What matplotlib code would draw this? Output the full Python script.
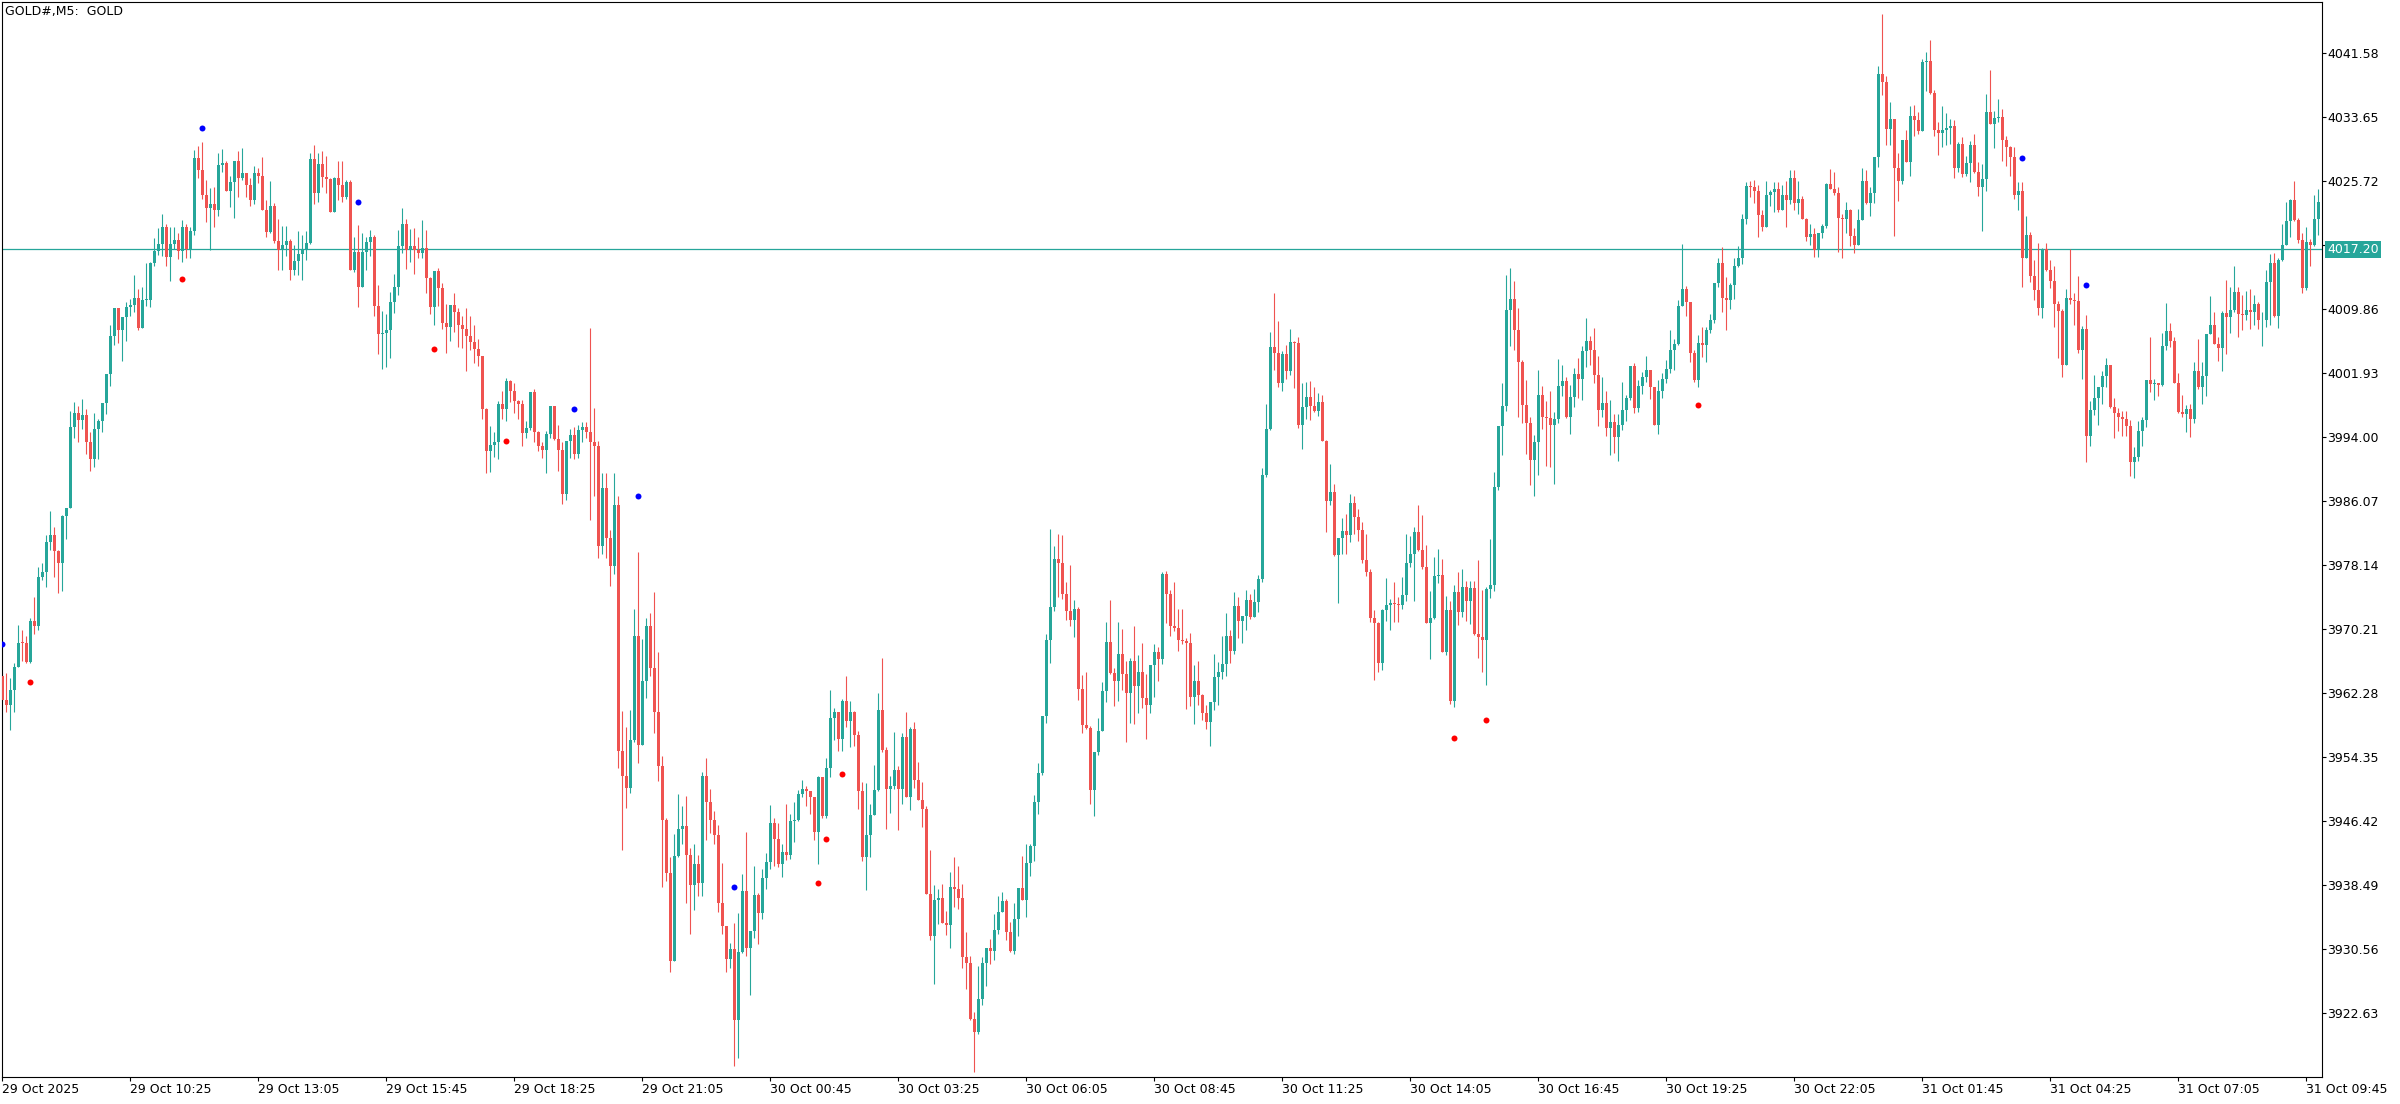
import numpy as np
import matplotlib
matplotlib.use("Agg")
import matplotlib.pyplot as plt
import matplotlib.transforms as mtransforms

# GOLD M5 candles, 29 Oct 07:45 -> 31 Oct 10:00
first_open = 3964.4

closes = [
    3961.4, 3960.8, 3962.6, 3965.5, 3968.5, 3968.4, 3966.1, 3971.2, 3970.6, 3976.6,
    3977.2, 3980.9, 3981.8, 3979.9, 3978.3, 3984.2, 3985.2, 3995.2, 3996.9, 3996.1,
    3996.7, 3993.4, 3991.2, 3995.0, 3996.0, 3998.2, 4001.8, 4006.5, 4009.9, 4007.2,
    4008.8, 4010.1, 4010.3, 4011.2, 4007.5, 4010.9, 4010.9, 4015.5, 4017.0, 4017.9,
    4020.0, 4016.3, 4017.9, 4018.4, 4017.0, 4020.0, 4017.2, 4019.5, 4028.5, 4027.0,
    4023.9, 4022.3, 4022.8, 4022.1, 4027.7, 4027.9, 4024.4, 4025.6, 4028.2, 4026.1,
    4026.7, 4025.2, 4023.3, 4026.7, 4026.3, 4022.1, 4019.4, 4022.6, 4018.3, 4017.1,
    4017.8, 4018.3, 4014.7, 4015.8, 4016.6, 4017.2, 4018.0, 4028.4, 4024.2, 4027.8,
    4026.2, 4025.9, 4021.8, 4026.1, 4025.2, 4023.7, 4025.6, 4014.7, 4016.9, 4012.5,
    4016.9, 4018.1, 4018.7, 4010.2, 4006.7, 4006.9, 4007.2, 4010.7, 4012.5, 4017.6,
    4020.4, 4017.1, 4017.6, 4017.1, 4016.7, 4017.4, 4013.7, 4010.1, 4014.5, 4012.4,
    4008.1, 4007.6, 4010.3, 4009.5, 4007.9, 4007.3, 4006.5, 4005.7, 4004.9, 4004.0,
    3997.4, 3992.2, 3993.0, 3993.4, 3998.1, 3997.4, 4000.9, 3999.7, 3998.4, 3998.1,
    3994.5, 3995.1, 3999.5, 3994.6, 3992.8, 3992.3, 3994.3, 3997.8, 3993.7, 3992.4,
    3986.9, 3993.5, 3994.2, 3991.9, 3994.8, 3995.2, 3994.6, 3993.3, 3992.8, 3980.5,
    3987.7, 3981.5, 3978.0, 3985.5, 3955.0, 3952.0, 3950.5, 3956.4, 3969.3, 3955.8,
    3963.7, 3970.6, 3965.3, 3959.9, 3953.2, 3946.5, 3939.9, 3929.0, 3942.0, 3945.4,
    3945.8, 3942.2, 3938.4, 3941.0, 3938.7, 3952.0, 3948.7, 3946.5, 3944.7, 3936.2,
    3933.4, 3929.3, 3930.5, 3921.7, 3930.2, 3937.7, 3930.7, 3932.7, 3937.2, 3935.0,
    3939.3, 3941.3, 3946.2, 3944.2, 3941.1, 3942.5, 3942.2, 3946.4, 3946.5, 3949.7,
    3950.4, 3950.1, 3949.4, 3945.0, 3951.9, 3947.0, 3952.9, 3959.1, 3959.9, 3956.6,
    3961.2, 3958.8, 3959.9, 3957.1, 3950.1, 3941.9, 3944.7, 3947.1, 3950.2, 3960.2,
    3955.2, 3950.4, 3950.7, 3952.7, 3950.4, 3956.8, 3949.4, 3957.8, 3951.5, 3949.0,
    3947.9, 3937.3, 3932.2, 3936.6, 3936.8, 3933.8, 3933.5, 3938.2, 3938.0, 3936.9,
    3929.5, 3928.8, 3921.9, 3920.3, 3924.3, 3928.8, 3930.6, 3930.3, 3932.9, 3935.1,
    3936.5, 3932.6, 3930.3, 3934.3, 3938.1, 3936.6, 3941.2, 3943.3, 3948.8, 3952.3,
    3959.4, 3968.8, 3972.9, 3978.8, 3978.4, 3974.5, 3972.4, 3971.3, 3972.6, 3962.8,
    3958.3, 3957.9, 3950.2, 3954.9, 3957.6, 3962.5, 3968.6, 3964.7, 3963.7, 3967.1,
    3964.6, 3962.3, 3966.2, 3963.1, 3964.9, 3961.6, 3960.8, 3965.7, 3967.3, 3966.4,
    3977.0, 3974.5, 3970.5, 3970.3, 3968.8, 3968.7, 3968.5, 3961.7, 3963.7, 3962.0,
    3959.8, 3958.7, 3961.1, 3964.2, 3964.9, 3965.9, 3969.3, 3967.4, 3973.0, 3971.2,
    3971.8, 3973.8, 3971.7, 3973.5, 3976.4, 3989.3, 3995.0, 4005.1, 4004.4, 4000.7,
    4004.3, 4002.1, 4005.7, 4005.6, 3995.5, 3997.7, 3998.9, 3997.8, 3997.2, 3998.3,
    3993.5, 3986.0, 3987.1, 3979.4, 3981.5, 3982.3, 3981.8, 3985.8, 3984.1, 3982.5,
    3978.7, 3977.2, 3971.6, 3970.9, 3966.0, 3972.5, 3973.2, 3973.4, 3973.3, 3973.2,
    3974.4, 3978.3, 3979.5, 3982.2, 3980.0, 3977.8, 3970.9, 3971.6, 3976.7, 3976.9,
    3967.3, 3972.5, 3961.2, 3974.7, 3972.3, 3975.4, 3973.7, 3975.2, 3969.6, 3969.2,
    3968.8, 3975.1, 3975.6, 3987.8, 3995.3, 3997.8, 4009.7, 4011.1, 4007.2, 4003.2,
    3997.9, 3995.7, 3991.1, 3993.4, 3999.2, 3996.4, 3996.3, 3995.5, 3996.2, 4000.3,
    4000.9, 3996.4, 3998.9, 4001.8, 4001.2, 4004.6, 4005.9, 4004.7, 4001.7, 3997.3,
    3998.2, 3995.1, 3995.8, 3994.0, 3995.5, 3997.3, 3998.8, 4002.8, 3997.5, 4000.3,
    4001.4, 4002.3, 4000.1, 3995.4, 3999.7, 4001.2, 4002.4, 4004.7, 4005.5, 4010.2,
    4012.3, 4010.7, 4004.4, 4001.0, 4005.6, 4005.4, 4007.2, 4008.5, 4013.0, 4015.5,
    4011.2, 4011.0, 4012.8, 4015.2, 4016.1, 4021.0, 4025.1, 4024.9, 4024.5, 4021.5,
    4020.0, 4024.0, 4024.3, 4024.7, 4022.1, 4024.0, 4023.3, 4026.1, 4023.0, 4023.5,
    4021.0, 4018.7, 4019.1, 4017.1, 4019.3, 4020.1, 4025.3, 4024.7, 4024.2, 4021.1,
    4021.0, 4022.1, 4018.9, 4017.8, 4020.9, 4025.7, 4022.9, 4024.2, 4028.7, 4038.9,
    4037.9, 4032.1, 4033.4, 4027.3, 4025.7, 4030.8, 4028.0, 4033.7, 4033.2, 4031.9,
    4040.4, 4040.5, 4036.6, 4032.0, 4031.6, 4032.0, 4032.3, 4032.5, 4027.3, 4030.3,
    4026.5, 4027.9, 4030.1, 4026.8, 4024.9, 4025.9, 4034.2, 4032.7, 4033.5, 4033.6,
    4030.8, 4029.9, 4028.6, 4024.0, 4024.4, 4016.2, 4019.0, 4013.9, 4012.2, 4009.9,
    4017.3, 4014.6, 4013.3, 4010.4, 4009.6, 4002.9, 4011.2, 4010.9, 4010.8, 4004.7,
    4007.3, 3994.1, 3997.3, 3998.8, 4000.2, 4001.5, 4002.9, 3997.7, 3997.0, 3996.4,
    3996.2, 3995.3, 3990.9, 3991.5, 3994.7, 3996.1, 4001.0, 4000.5, 4000.6, 4000.4,
    4005.2, 4007.1, 4005.8, 4000.6, 3997.1, 3996.8, 3997.4, 3996.2, 4002.2, 4000.1,
    4001.5, 4006.7, 4007.8, 4005.5, 4005.0, 4009.3, 4008.8, 4009.7, 4011.9, 4009.2,
    4009.1, 4009.7, 4009.4, 4010.4, 4008.4, 4008.5, 4013.2, 4015.5, 4008.9, 4015.9,
    4017.8, 4020.7, 4023.3, 4020.9, 4018.4, 4012.4, 4018.1, 4017.7, 4021.0, 4023.1,
]

highs = [
    3964.9, 3964.7, 3964.1, 3966.0, 3970.7, 3970.0, 3969.3, 3971.5, 3974.1, 3977.9,
    3978.3, 3981.8, 3984.8, 3982.8, 3980.0, 3984.3, 3985.2, 3997.2, 3998.3, 3997.8,
    3998.7, 3997.4, 3994.6, 3997.0, 3996.2, 3998.2, 4001.8, 4007.8, 4009.9, 4009.9,
    4008.8, 4010.7, 4011.1, 4014.0, 4012.3, 4012.6, 4015.5, 4015.7, 4018.6, 4019.8,
    4021.6, 4020.3, 4020.0, 4020.0, 4019.3, 4020.8, 4020.4, 4020.0, 4029.5, 4030.0,
    4030.5, 4025.8, 4024.8, 4025.0, 4029.2, 4029.7, 4028.1, 4026.3, 4028.2, 4029.4,
    4029.8, 4026.6, 4026.1, 4027.6, 4027.3, 4028.7, 4023.3, 4025.7, 4023.0, 4021.0,
    4020.1, 4020.1, 4018.5, 4017.7, 4019.5, 4019.0, 4019.5, 4029.2, 4030.1, 4029.1,
    4029.4, 4028.8, 4026.1, 4026.2, 4028.2, 4028.2, 4025.8, 4025.8, 4018.8, 4020.2,
    4019.3, 4018.8, 4019.6, 4019.0, 4012.8, 4009.6, 4009.2, 4011.9, 4014.1, 4019.6,
    4022.3, 4021.0, 4019.7, 4019.9, 4018.7, 4020.9, 4019.6, 4013.8, 4014.5, 4014.9,
    4013.0, 4010.4, 4010.3, 4011.8, 4010.0, 4009.0, 4010.0, 4008.9, 4007.8, 4006.1,
    4004.0, 3997.5, 3995.3, 3994.6, 3998.4, 3999.7, 4001.3, 4001.0, 4000.7, 3998.6,
    3998.6, 3996.0, 3999.6, 3999.9, 3994.7, 3993.3, 3994.7, 3997.8, 3997.8, 3995.4,
    3993.3, 3993.5, 3995.0, 3995.2, 3995.4, 3995.8, 3995.8, 4007.5, 3997.6, 3993.5,
    3989.5, 3989.5, 3982.5, 3989.5, 3986.6, 3960.0, 3958.0, 3960.1, 3972.7, 3979.7,
    3968.9, 3971.5, 3972.1, 3974.7, 3967.3, 3954.4, 3946.7, 3941.9, 3944.8, 3949.7,
    3948.2, 3949.5, 3943.0, 3943.6, 3942.2, 3952.4, 3954.2, 3950.4, 3947.6, 3945.9,
    3941.2, 3933.4, 3931.3, 3933.8, 3935.0, 3939.8, 3945.0, 3932.7, 3940.8, 3937.5,
    3940.4, 3942.4, 3948.4, 3946.8, 3946.2, 3943.5, 3948.5, 3947.3, 3948.7, 3950.2,
    3951.5, 3950.7, 3950.0, 3949.4, 3952.0, 3951.8, 3954.2, 3962.6, 3960.4, 3959.8,
    3961.5, 3964.4, 3961.3, 3960.0, 3957.5, 3951.2, 3951.1, 3948.5, 3953.3, 3962.3,
    3966.6, 3955.5, 3952.0, 3957.4, 3953.2, 3957.3, 3959.9, 3958.0, 3958.6, 3953.7,
    3951.2, 3948.3, 3942.8, 3938.5, 3938.0, 3938.6, 3935.2, 3940.1, 3941.9, 3940.8,
    3938.6, 3932.6, 3929.6, 3922.7, 3928.4, 3929.5, 3930.6, 3931.8, 3934.9, 3937.1,
    3937.6, 3936.7, 3933.9, 3936.2, 3938.1, 3942.1, 3943.5, 3943.6, 3949.6, 3953.6,
    3959.4, 3969.5, 3982.6, 3980.4, 3981.9, 3981.8, 3976.0, 3978.1, 3973.8, 3972.9,
    3964.5, 3964.9, 3958.1, 3954.9, 3959.2, 3963.6, 3971.1, 3973.8, 3965.4, 3971.1,
    3970.2, 3966.2, 3966.6, 3970.5, 3966.9, 3968.5, 3964.6, 3965.7, 3968.3, 3967.9,
    3977.2, 3977.4, 3975.0, 3976.0, 3972.6, 3972.6, 3969.0, 3969.7, 3965.7, 3966.2,
    3962.1, 3960.7, 3961.1, 3967.1, 3966.1, 3969.3, 3972.1, 3970.0, 3974.7, 3974.2,
    3971.8, 3975.0, 3974.5, 3975.1, 3976.9, 3990.1, 3998.1, 4007.0, 4011.8, 4008.3,
    4004.6, 4005.4, 4007.3, 4005.9, 4006.4, 4000.6, 4000.8, 4000.9, 4000.1, 3999.4,
    3999.2, 3993.6, 3990.6, 3988.1, 3981.5, 3983.9, 3984.4, 3986.9, 3986.6, 3985.1,
    3983.4, 3982.0, 3977.6, 3972.5, 3971.0, 3972.7, 3976.5, 3973.9, 3976.0, 3974.1,
    3976.6, 3981.9, 3981.7, 3982.8, 3985.5, 3984.3, 3980.6, 3974.9, 3979.1, 3980.1,
    3978.9, 3974.3, 3973.6, 3975.6, 3977.2, 3977.6, 3976.1, 3976.1, 3976.1, 3978.7,
    3975.0, 3975.4, 3981.3, 3989.6, 3995.3, 4000.7, 4014.0, 4014.9, 4013.3, 4009.9,
    4003.5, 4001.0, 3996.5, 3994.2, 4002.3, 4000.3, 3998.4, 3999.7, 3997.1, 4003.6,
    4002.9, 4001.4, 4000.4, 4002.5, 4003.8, 4005.2, 4008.7, 4006.5, 4007.5, 4004.0,
    4001.4, 3999.7, 3998.6, 3996.8, 3996.8, 4000.8, 3999.2, 4002.8, 4003.1, 4001.0,
    4002.0, 4004.0, 4002.3, 4000.1, 4001.0, 4001.9, 4003.5, 4007.2, 4006.1, 4010.9,
    4017.9, 4012.7, 4010.7, 4004.8, 4006.6, 4007.6, 4007.6, 4009.2, 4013.0, 4016.2,
    4017.5, 4013.8, 4013.0, 4016.2, 4017.6, 4021.6, 4025.5, 4025.7, 4025.8, 4025.2,
    4022.1, 4025.7, 4024.6, 4025.5, 4025.6, 4025.2, 4025.7, 4027.1, 4027.1, 4025.7,
    4023.8, 4021.1, 4020.4, 4019.9, 4019.3, 4020.3, 4025.4, 4027.2, 4026.8, 4024.9,
    4021.6, 4023.1, 4022.2, 4019.9, 4022.2, 4027.3, 4027.1, 4024.9, 4028.7, 4039.9,
    4046.4, 4038.7, 4035.5, 4033.4, 4029.1, 4030.8, 4032.0, 4035.0, 4035.1, 4034.2,
    4040.8, 4041.7, 4043.2, 4037.0, 4033.0, 4035.0, 4034.1, 4033.4, 4033.2, 4030.5,
    4031.1, 4028.8, 4030.6, 4031.5, 4028.0, 4027.8, 4036.5, 4039.4, 4034.4, 4035.9,
    4034.6, 4031.2, 4030.0, 4029.9, 4025.5, 4025.5, 4021.4, 4019.4, 4015.9, 4018.0,
    4017.4, 4018.0, 4015.9, 4015.1, 4010.8, 4009.8, 4012.3, 4017.3, 4011.8, 4013.9,
    4007.7, 4009.1, 3998.4, 4001.7, 4000.2, 4002.1, 4003.8, 4002.9, 3998.8, 3997.6,
    3997.2, 3997.2, 3996.1, 3992.7, 3995.9, 3996.5, 4001.0, 4006.3, 4001.2, 4000.7,
    4006.8, 4010.6, 4008.1, 4006.4, 4001.9, 3999.2, 3997.9, 3998.0, 4003.3, 4006.1,
    4003.3, 4006.7, 4011.4, 4009.4, 4006.3, 4009.6, 4013.4, 4012.6, 4015.2, 4012.5,
    4011.6, 4012.1, 4012.3, 4011.6, 4010.7, 4009.4, 4014.7, 4016.6, 4016.7, 4016.1,
    4020.4, 4023.1, 4023.5, 4025.7, 4021.1, 4019.2, 4020.0, 4018.5, 4024.0, 4024.7,
]

lows = [
    3961.2, 3959.9, 3957.7, 3959.9, 3965.5, 3966.2, 3966.0, 3966.0, 3969.5, 3970.0,
    3976.2, 3975.4, 3980.0, 3976.6, 3974.6, 3974.9, 3981.3, 3985.5, 3993.9, 3993.3,
    3995.0, 3991.8, 3989.7, 3990.3, 3991.3, 3994.6, 3996.8, 4000.3, 4005.4, 4005.6,
    4003.4, 4005.8, 4009.0, 4009.5, 4007.2, 4007.5, 4010.2, 4010.1, 4015.2, 4016.5,
    4016.4, 4015.2, 4013.3, 4017.2, 4016.0, 4015.7, 4016.2, 4016.2, 4019.0, 4026.0,
    4023.5, 4020.6, 4017.1, 4020.0, 4021.4, 4026.8, 4024.4, 4022.5, 4021.1, 4023.7,
    4025.8, 4023.7, 4022.6, 4022.8, 4025.4, 4022.1, 4018.7, 4019.3, 4018.0, 4014.7,
    4014.7, 4016.4, 4013.4, 4014.0, 4014.0, 4013.4, 4015.9, 4017.9, 4022.8, 4023.1,
    4024.9, 4024.2, 4021.8, 4021.8, 4023.3, 4023.1, 4023.5, 4014.7, 4014.4, 4010.1,
    4012.5, 4014.7, 4016.4, 4008.9, 4004.2, 4002.4, 4002.6, 4003.8, 4009.3, 4011.5,
    4016.8, 4014.8, 4015.7, 4014.2, 4016.1, 4016.1, 4011.8, 4009.2, 4007.9, 4010.2,
    4007.4, 4004.4, 4005.9, 4007.0, 4005.1, 4005.0, 4002.1, 4004.8, 4003.1, 4002.8,
    3996.2, 3989.5, 3989.6, 3991.5, 3991.3, 3996.2, 3996.0, 3998.3, 3997.0, 3996.2,
    3992.9, 3993.9, 3994.8, 3993.3, 3992.2, 3991.4, 3989.5, 3993.9, 3993.6, 3989.7,
    3985.7, 3986.1, 3991.4, 3991.3, 3991.4, 3993.3, 3993.9, 3983.7, 3986.7, 3979.0,
    3979.5, 3979.0, 3975.5, 3977.0, 3953.0, 3942.8, 3948.0, 3949.9, 3956.2, 3953.6,
    3955.9, 3961.6, 3964.3, 3957.3, 3951.3, 3938.2, 3939.0, 3927.7, 3929.0, 3941.9,
    3943.6, 3936.2, 3932.4, 3935.4, 3937.1, 3937.1, 3944.0, 3944.9, 3943.6, 3935.1,
    3932.4, 3927.7, 3928.2, 3916.0, 3917.0, 3930.0, 3929.6, 3924.8, 3931.9, 3931.1,
    3934.3, 3938.0, 3940.4, 3940.8, 3940.7, 3939.5, 3941.6, 3941.7, 3943.8, 3946.4,
    3949.3, 3948.2, 3947.3, 3944.0, 3941.0, 3946.8, 3946.7, 3951.9, 3956.4, 3955.0,
    3955.0, 3958.0, 3955.5, 3955.7, 3947.9, 3941.4, 3937.9, 3941.9, 3947.1, 3950.1,
    3954.9, 3945.4, 3947.4, 3950.3, 3945.3, 3948.5, 3949.4, 3947.7, 3950.5, 3949.0,
    3945.7, 3937.3, 3931.7, 3926.2, 3933.6, 3933.8, 3932.3, 3930.7, 3935.7, 3935.5,
    3928.2, 3925.6, 3921.7, 3915.3, 3920.0, 3923.6, 3925.9, 3928.7, 3929.2, 3932.4,
    3935.1, 3931.6, 3930.2, 3929.9, 3932.1, 3936.6, 3934.5, 3939.6, 3941.4, 3947.3,
    3952.1, 3958.5, 3966.0, 3972.4, 3974.2, 3973.9, 3971.3, 3970.6, 3969.2, 3961.4,
    3957.3, 3957.8, 3948.5, 3947.0, 3954.6, 3957.5, 3961.1, 3964.6, 3960.6, 3961.3,
    3962.6, 3956.2, 3958.5, 3958.4, 3959.8, 3960.4, 3956.6, 3959.8, 3961.7, 3963.7,
    3965.9, 3970.9, 3969.3, 3969.9, 3967.4, 3968.3, 3960.3, 3960.6, 3958.4, 3960.7,
    3958.9, 3957.8, 3955.7, 3960.1, 3960.7, 3964.0, 3964.4, 3966.0, 3967.1, 3969.0,
    3968.4, 3970.0, 3971.4, 3971.7, 3972.3, 3976.0, 3989.0, 3994.8, 4002.3, 4000.1,
    3999.7, 4001.2, 4001.7, 4000.0, 3995.1, 3992.5, 3996.2, 3996.1, 3997.1, 3996.6,
    3993.5, 3982.2, 3985.5, 3979.2, 3973.4, 3979.5, 3979.5, 3981.0, 3982.0, 3981.1,
    3978.4, 3976.7, 3971.1, 3963.8, 3964.9, 3965.1, 3971.2, 3970.0, 3971.0, 3971.0,
    3972.7, 3973.6, 3977.9, 3973.7, 3979.8, 3977.6, 3970.9, 3966.5, 3971.4, 3975.9,
    3967.3, 3966.9, 3960.9, 3960.5, 3970.7, 3971.7, 3971.2, 3970.8, 3969.4, 3966.6,
    3964.9, 3963.2, 3974.0, 3974.9, 3987.4, 3991.7, 3997.2, 4005.2, 4004.7, 3996.5,
    3995.7, 3991.9, 3988.0, 3986.7, 3989.3, 3995.0, 3990.4, 3990.3, 3988.1, 3995.7,
    3999.0, 3996.3, 3994.3, 3997.7, 3998.8, 3998.6, 4002.6, 4002.9, 4000.7, 3995.3,
    3996.4, 3994.1, 3991.7, 3992.0, 3991.0, 3994.8, 3996.0, 3998.6, 3997.0, 3997.1,
    3999.3, 4000.8, 3998.7, 3995.4, 3994.3, 3998.8, 4000.6, 4001.9, 4002.3, 4005.4,
    4010.2, 4008.9, 4003.2, 4000.8, 4000.1, 4003.9, 4003.3, 4006.8, 4008.1, 4012.6,
    4009.5, 4007.2, 4009.8, 4011.1, 4015.0, 4015.4, 4020.4, 4023.7, 4023.0, 4018.7,
    4019.5, 4020.0, 4022.6, 4021.8, 4021.8, 4022.1, 4020.0, 4022.8, 4022.1, 4021.6,
    4021.0, 4018.3, 4017.8, 4016.3, 4016.3, 4018.6, 4019.9, 4024.7, 4023.9, 4016.9,
    4016.2, 4019.3, 4017.6, 4016.7, 4017.7, 4020.9, 4022.8, 4021.4, 4023.0, 4027.4,
    4036.3, 4030.2, 4030.1, 4018.9, 4023.2, 4025.3, 4028.0, 4026.3, 4031.2, 4031.5,
    4031.9, 4036.8, 4036.5, 4031.2, 4028.9, 4029.9, 4030.1, 4030.3, 4026.1, 4026.8,
    4026.2, 4026.3, 4025.6, 4026.7, 4023.8, 4019.5, 4024.5, 4032.7, 4029.8, 4033.0,
    4028.1, 4027.6, 4026.3, 4023.5, 4022.1, 4012.6, 4016.2, 4013.2, 4011.0, 4009.1,
    4008.7, 4014.5, 4012.4, 4007.6, 4003.8, 4001.4, 4002.9, 4010.4, 4007.8, 4004.4,
    4001.2, 3990.9, 3992.8, 3996.7, 3995.4, 3998.1, 4000.2, 3997.5, 3993.8, 3994.7,
    3994.1, 3994.1, 3989.1, 3988.9, 3991.0, 3992.9, 3995.2, 3999.6, 3998.6, 3999.0,
    4000.3, 4004.8, 4005.1, 4000.6, 3996.9, 3996.4, 3994.6, 3994.0, 3995.7, 3999.9,
    3998.1, 3999.1, 4006.7, 4005.5, 4003.4, 4002.2, 4004.3, 4006.9, 4009.5, 4006.4,
    4007.2, 4008.4, 4007.3, 4007.8, 4007.4, 4005.3, 4007.6, 4007.8, 4008.8, 4007.5,
    4015.8, 4017.8, 4018.8, 4020.7, 4018.0, 4011.8, 4012.2, 4015.1, 4017.6, 4019.0,
]

# time axis labels, one every 32 bars
time_labels = [
    "29 Oct 2025", "29 Oct 10:25", "29 Oct 13:05", "29 Oct 15:45", "29 Oct 18:25",
    "29 Oct 21:05", "30 Oct 00:45", "30 Oct 03:25", "30 Oct 06:05", "30 Oct 08:45",
    "30 Oct 11:25", "30 Oct 14:05", "30 Oct 16:45", "30 Oct 19:25", "30 Oct 22:05",
    "31 Oct 01:45", "31 Oct 04:25", "31 Oct 07:05", "31 Oct 09:45",
]
price_ticks = [4041.58, 4033.65, 4025.72, 4017.79, 4009.86, 4001.93, 3994.00, 3986.07,
               3978.14, 3970.21, 3962.28, 3954.35, 3946.42, 3938.49, 3930.56, 3922.63]
price_line = 4017.20

# indicator dots (bar index, price)
blue_idx = [0, 50, 89, 143, 159, 183, 505, 521]
blue_price = [3968.3, 4032.2, 4023.1, 3997.4, 3986.7, 3938.2, 4028.5, 4012.8]
red_idx = [7, 45, 108, 126, 204, 206, 210, 363, 371, 424]
red_price = [3963.6, 4013.6, 4004.9, 3993.5, 3938.7, 3944.2, 3952.2, 3956.7, 3958.9, 3997.9]

up_color = "#26a69a"
down_color = "#ef5350"

closes = np.array(closes)
opens = np.r_[first_open, closes[:-1]]
highs = np.maximum(np.array(highs), np.maximum(opens, closes))
lows = np.minimum(np.array(lows), np.minimum(opens, closes))
x = np.arange(len(closes))
colors = np.where(closes >= opens, up_color, down_color)

fig = plt.figure(figsize=(24, 11.04), dpi=100)
ax = fig.add_axes([2 / 2400, 27 / 1104, 2320 / 2400, 1075 / 1104])

# wicks then bodies
ax.vlines(x, lows, highs, colors=colors, linewidth=0.8, zorder=2)
body = np.maximum(np.abs(closes - opens), 0.12)
ax.bar(x, body, bottom=np.minimum(opens, closes), width=0.72, color=colors,
       linewidth=0, zorder=3)

ax.axhline(price_line, color=up_color, linewidth=0.9, zorder=1)
ax.plot(blue_idx, blue_price, "o", color="#0000ff", ms=4.3, mew=0, zorder=4)
ax.plot(red_idx, red_price, "o", color="#ff0000", ms=4.3, mew=0, zorder=4)

ax.set_xlim(-0.1, 579.9)
ax.set_ylim(3914.67, 4047.86)

ax.yaxis.tick_right()
ax.set_yticks(price_ticks)
ax.set_yticklabels([f"{v:.2f}" for v in price_ticks])
ax.set_xticks(np.arange(len(time_labels)) * 32)
ax.set_xticklabels(time_labels, ha="left")
ax.tick_params(axis="y", direction="out", length=3, width=0.8, pad=1, labelsize=9)
ax.tick_params(axis="x", direction="out", length=3, width=0.8, pad=1, labelsize=9)
for s in ax.spines.values():
    s.set_linewidth(0.8)
    s.set_color("black")

# current price tag on the right axis
trans = mtransforms.blended_transform_factory(ax.transAxes, ax.transData)
ax.text(1.0022, price_line, f"{price_line:.2f}", transform=trans, ha="left", va="center",
        fontsize=9, color="white", zorder=10, clip_on=False,
        bbox=dict(boxstyle="square,pad=0.15", fc=up_color, ec="none"))

fig.text(5 / 2400, 1 - 12 / 1104, "GOLD#,M5:  GOLD", fontsize=9, ha="left", va="center")

fig.savefig("out.png", dpi=100)
